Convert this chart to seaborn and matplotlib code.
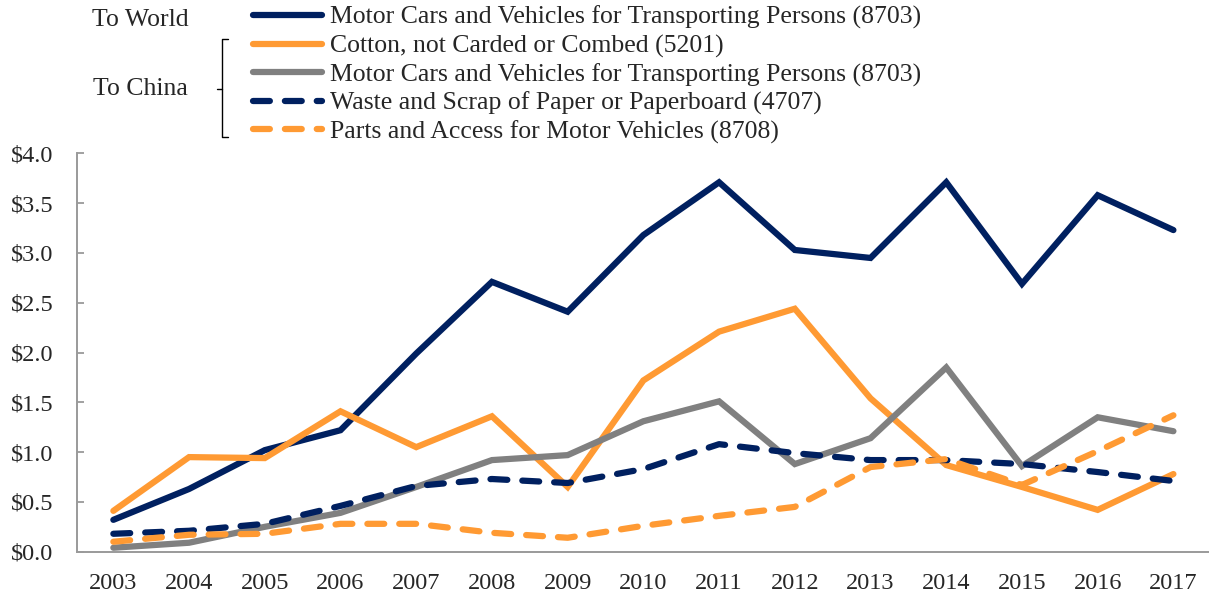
import matplotlib
matplotlib.use("Agg")
import matplotlib.pyplot as plt
from matplotlib.lines import Line2D
import seaborn as sns

# Exports, billions of US$
years = list(range(2003, 2018))
world_cars_8703 = [0.32, 0.63, 1.02, 1.22, 1.99, 2.71, 2.41, 3.18, 3.71, 3.03, 2.95, 3.71, 2.69, 3.58, 3.23]
china_cotton_5201 = [0.41, 0.95, 0.94, 1.41, 1.05, 1.36, 0.65, 1.72, 2.21, 2.44, 1.54, 0.87, 0.65, 0.42, 0.78]
china_cars_8703 = [0.04, 0.09, 0.25, 0.39, 0.65, 0.92, 0.97, 1.31, 1.51, 0.88, 1.14, 1.85, 0.86, 1.35, 1.21]
china_paper_4707 = [0.18, 0.21, 0.28, 0.46, 0.66, 0.73, 0.69, 0.83, 1.08, 0.99, 0.92, 0.92, 0.88, 0.80, 0.71]
china_parts_8708 = [0.10, 0.17, 0.18, 0.28, 0.28, 0.19, 0.14, 0.26, 0.36, 0.45, 0.85, 0.93, 0.67, 1.01, 1.37]

labels = [
    "Motor Cars and Vehicles for Transporting Persons (8703)",
    "Cotton, not Carded or Combed (5201)",
    "Motor Cars and Vehicles for Transporting Persons (8703)",
    "Waste and Scrap of Paper or Paperboard (4707)",
    "Parts and Access for Motor Vehicles (8708)",
]

NAVY = "#002060"
ORANGE = "#FF9A33"
GREY = "#808080"
AXIS = "#9A9A9A"
dash = (0, (2.7, 2.4))

sns.set_theme(style="white")
plt.rcParams["font.family"] = ["Liberation Serif", "DejaVu Serif"]

fig = plt.figure(figsize=(12.09, 5.96), dpi=100)
ax = fig.add_axes([77 / 1209, 44.3 / 596, 1132 / 1209, 398.3 / 596])

series = [
    (world_cars_8703, NAVY, "-"),
    (china_cotton_5201, ORANGE, "-"),
    (china_cars_8703, GREY, "-"),
    (china_paper_4707, NAVY, dash),
    (china_parts_8708, ORANGE, dash),
]
for (vals, col, ls), lab in zip(series, labels):
    sns.lineplot(x=years, y=vals, color=col, linewidth=4.5, linestyle=ls,
                 solid_capstyle="round", dash_capstyle="round",
                 solid_joinstyle="miter", label=lab, ax=ax)

ax.set_xlim(2002.52, 2017.47)
ax.set_ylim(0, 4)
ax.set_xticks(years)
ax.set_yticks([0, 0.5, 1, 1.5, 2, 2.5, 3, 3.5, 4])
ax.set_yticklabels([f"${v:.1f}" for v in ax.get_yticks()])
ax.tick_params(axis="y", direction="in", length=5, width=1.3, color=AXIS,
               labelsize=17.5, pad=17, left=True)
ax.tick_params(axis="x", length=0, labelsize=17.5, pad=15)
ax.set_xlabel("")
ax.set_ylabel("")
for s in ["top", "right"]:
    ax.spines[s].set_visible(False)
for s in ["left", "bottom"]:
    ax.spines[s].set_color(AXIS)
    ax.spines[s].set_linewidth(1.4)
ax.grid(False)
if ax.get_legend() is not None:
    ax.get_legend().remove()

handles = ax.get_lines()[:5]
fig.legend(handles, labels, loc="upper left",
           bbox_to_anchor=(253 / 1209, 1 - 6 / 596),
           bbox_transform=fig.transFigure, frameon=False,
           fontsize=18.5, handlelength=2.7, handletextpad=0.3,
           labelspacing=0.2, borderpad=0, borderaxespad=0)

fig.text(140 / 1209, 1 - 20 / 596, "To World", ha="center", va="center", fontsize=18.5)
fig.text(140 / 1209, 1 - 89 / 596, "To China", ha="center", va="center", fontsize=18.5)

# bracket grouping the China series
def fy(py):
    return 1 - py / 596

def fx(px):
    return px / 1209

for xs, ys in [([228, 222, 222, 228], [39, 39, 137, 137]), ([217, 222], [89, 89])]:
    fig.add_artist(Line2D([fx(v) for v in xs], [fy(v) for v in ys],
                          color="black", linewidth=1, transform=fig.transFigure))

fig.savefig("out.png", dpi=100)
